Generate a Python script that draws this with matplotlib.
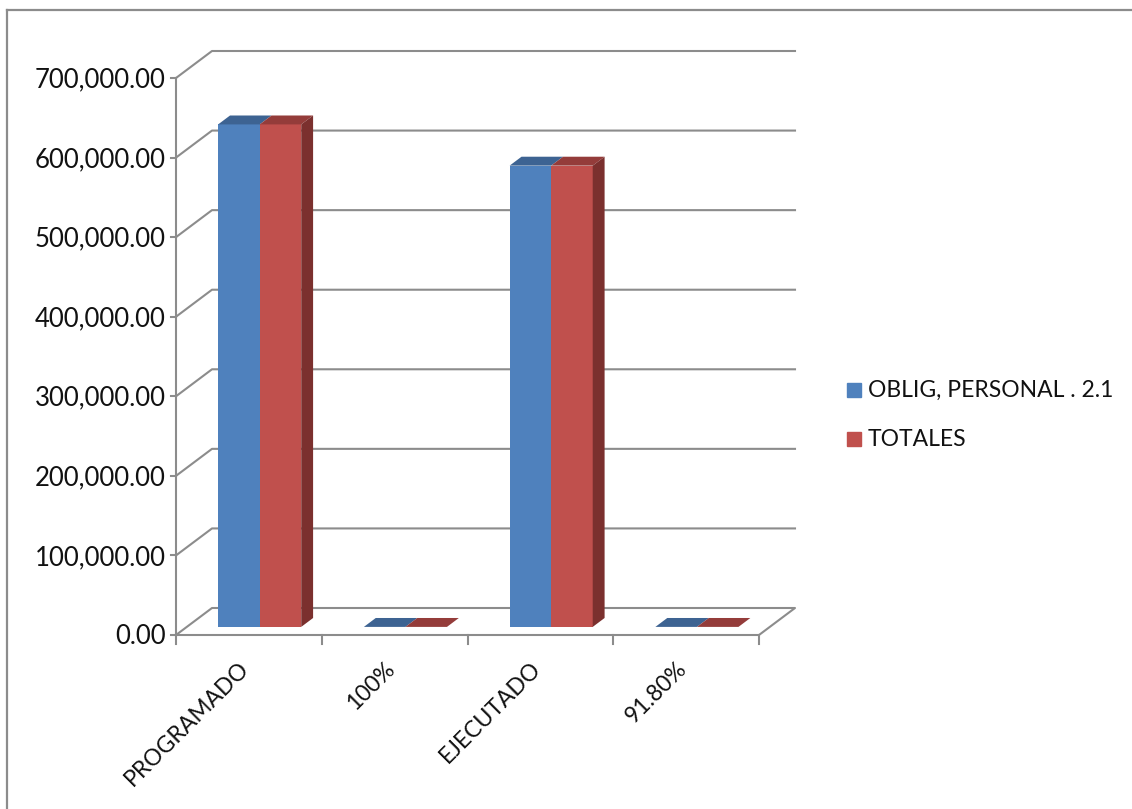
import numpy as np
import matplotlib.pyplot as plt
from matplotlib.patches import Polygon, Rectangle
from matplotlib.lines import Line2D

plt.rcParams['font.family'] = ['Lato', 'DejaVu Sans']

#Data
categories = ['PROGRAMADO', '100%', 'EJECUTADO', '91.80%']
series_names = ['OBLIG, PERSONAL . 2.1', 'TOTALES']
oblig = [631500, 1, 579700, 0.918]
totales = [631500, 1, 579700, 0.918]
yticks = np.arange(0, 700001, 100000)

#Colors (front, top, side)
blue = ['#4F81BD', '#3D6392', '#2F4F78']
red = ['#C0504D', '#943C3A', '#7B302E']
grid_col = '#8C8C8C'

W, H = 1132, 809
fig = plt.figure(figsize=(W / 100, H / 100), dpi=100)

#outer border of chart area
fig.add_artist(Line2D([7 / W, 1], [1 - 10 / H, 1 - 10 / H], color='#8C8C8C', lw=1.6))
fig.add_artist(Line2D([7 / W, 7 / W], [0, 1 - 10 / H], color='#8C8C8C', lw=1.6))

ax = fig.add_axes([176 / W, 1 - 635 / H, 583 / W, 557 / H])
ax.set_xlim(0, 4)
ax.set_ylim(0, 700000)
ax.axis('off')

#depth offset in data units
px_x = 4 / 583
px_y = 700000 / 557
DX = 36 * px_x
DY = 27 * px_y

#walls and gridlines
for v in yticks:
    if v > 0:
        ax.plot([0, DX, 4 + DX], [v, v + DY, v + DY], color=grid_col, lw=1.5, clip_on=False)
    ax.plot([-5 * px_x, 0], [v, v], color=grid_col, lw=1.5, clip_on=False)
    ax.text(-10 * px_x, v - 2 * px_y, f'{v:,.2f}', ha='right', va='center', fontsize=18.5, color='#111111')
ax.plot([0, 0], [0, 700000], color=grid_col, lw=1.5, clip_on=False)
#floor
ax.plot([0, 4, 4 + DX, DX, 0], [0, 0, DY, DY, 0], color=grid_col, lw=1.5, clip_on=False)
for i in range(5):
    ax.plot([i, i], [0, -9 * px_y], color=grid_col, lw=1.5, clip_on=False)

#bars
f0, f1 = 0.30, 0.63
bw = 0.285
x0 = np.arange(len(categories)) + 0.5 + f0 * DX - bw
base = f0 * DY
dd = f1 - f0
for k, (vals, cols) in enumerate([(oblig, blue), (totales, red)]):
    xs = x0 + k * bw
    ax.bar(xs, vals, width=bw, bottom=base, align='edge', color=cols[0], lw=0, zorder=3)
    for x, v in zip(xs, vals):
        top = base + v
        ax.add_patch(Polygon([[x, top], [x + bw, top], [x + bw + dd * DX, top + dd * DY],
                              [x + dd * DX, top + dd * DY]], closed=True, color=cols[1], lw=0, zorder=3))
        if k == 1:
            ax.add_patch(Polygon([[x + bw, base], [x + bw + dd * DX, base + dd * DY],
                                  [x + bw + dd * DX, top + dd * DY], [x + bw, top]],
                                 closed=True, color=cols[2], lw=0, zorder=3))

#category labels
for i, c in enumerate(categories):
    ax.text(i + 0.53, -23 * px_y, c, rotation=45, ha='right', va='top', fontsize=16.5, color='#111111')

#legend
for j, (name, col) in enumerate(zip(series_names, [blue[0], red[0]])):
    yc = 1 - (390 + 49 * j) / H
    fig.add_artist(Rectangle((847 / W, yc - 7 / H), 14 / W, 14 / H, color=col))
    fig.text(868 / W, yc, name, ha='left', va='center', fontsize=16.5, color='#111111')

fig.savefig('out.png', dpi=100)
